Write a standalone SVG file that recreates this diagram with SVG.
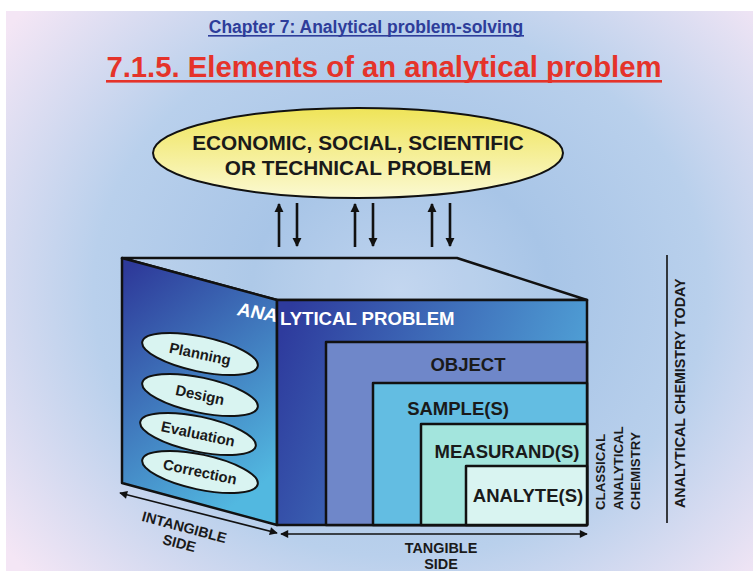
<svg xmlns="http://www.w3.org/2000/svg" width="753" height="571" viewBox="0 0 753 571">
<defs>
<radialGradient id="bg" gradientUnits="userSpaceOnUse" cx="400" cy="290" r="430" gradientTransform="translate(400 290) scale(1.15 1) translate(-400 -290)">
<stop offset="0" stop-color="#BED3EE"/>
<stop offset="0.3" stop-color="#A8C5E7"/>
<stop offset="0.62" stop-color="#B9D0EC"/>
<stop offset="1" stop-color="#F4E6F5"/>
</radialGradient>
<linearGradient id="yel" x1="0" y1="0" x2="0" y2="1">
<stop offset="0" stop-color="#EFE458"/>
<stop offset="1" stop-color="#FBF9D2"/>
</linearGradient>
<linearGradient id="front" gradientUnits="userSpaceOnUse" x1="290" y1="310" x2="590" y2="420">
<stop offset="0" stop-color="#2E3B9D"/>
<stop offset="1" stop-color="#52A8DA"/>
</linearGradient>
<linearGradient id="side" gradientUnits="userSpaceOnUse" x1="125" y1="270" x2="280" y2="470">
<stop offset="0" stop-color="#2E3A9A"/>
<stop offset="1" stop-color="#52B8E0"/>
</linearGradient>
<marker id="ah" viewBox="0 0 10 10" refX="9" refY="5" markerWidth="3.6" markerHeight="3.8" orient="auto-start-reverse" markerUnits="strokeWidth">
<path d="M0,0 L10,5 L0,10 z" fill="#111"/>
</marker>
<marker id="ah2" viewBox="0 0 10 10" refX="9" refY="5" markerWidth="6" markerHeight="5" orient="auto-start-reverse" markerUnits="strokeWidth">
<path d="M0,0 L10,5 L0,10 z" fill="#111"/>
</marker>
</defs>
<style>
.t{font-family:"Liberation Sans",Arial,sans-serif;font-weight:bold}
.dk{fill:#1a1a1a}
.box{stroke:#111;stroke-width:2.5;stroke-linejoin:round}
.oval{fill:#D9F4F1;stroke:#111;stroke-width:2}
.arr{stroke:#111;stroke-width:2.6;fill:none}
.arrs{stroke:#111;stroke-width:1.6;fill:none}
</style>
<rect x="0" y="0" width="753" height="571" fill="#fff"/>
<rect x="6" y="11" width="747" height="560" fill="url(#bg)"/>

<g id="titles">
<text class="t" x="366" y="33" font-size="17.5" fill="#2E3D9A" text-anchor="middle">Chapter 7: Analytical problem-solving</text>
<rect x="208" y="35" width="316" height="1.6" fill="#2E3D9A"/>
<text class="t" x="384" y="77" font-size="29.3" fill="#E5332A" text-anchor="middle">7.1.5. Elements of an analytical problem</text>
<rect x="106" y="80" width="556" height="2.6" fill="#E5332A"/>
</g>

<g id="problem">
<ellipse cx="358" cy="153" rx="205" ry="45" fill="url(#yel)" stroke="#111" stroke-width="2"/>
<text class="t dk" x="358" y="150" font-size="20.8" text-anchor="middle">ECONOMIC, SOCIAL, SCIENTIFIC</text>
<text class="t dk" x="358" y="175" font-size="20.8" text-anchor="middle">OR TECHNICAL PROBLEM</text>
</g>

<g id="connectors">
<line class="arr" x1="279" y1="247" x2="279" y2="204" marker-end="url(#ah)"/>
<line class="arr" x1="297" y1="203" x2="297" y2="246" marker-end="url(#ah)"/>
<line class="arr" x1="355" y1="247" x2="355" y2="204" marker-end="url(#ah)"/>
<line class="arr" x1="373" y1="203" x2="373" y2="246" marker-end="url(#ah)"/>
<line class="arr" x1="432" y1="247" x2="432" y2="204" marker-end="url(#ah)"/>
<line class="arr" x1="450" y1="203" x2="450" y2="246" marker-end="url(#ah)"/>
<line class="arrs" x1="120" y1="493" x2="277" y2="533" marker-start="url(#ah2)" marker-end="url(#ah2)"/>
<line class="arrs" x1="281" y1="534" x2="587" y2="534" marker-start="url(#ah2)" marker-end="url(#ah2)"/>
<line x1="667" y1="255" x2="667" y2="523" stroke="#111" stroke-width="1.6"/>
</g>

<g id="box">
<polygon class="box" points="122,258 457,258 587,300 277,300" fill="#ffffff" fill-opacity="0.08"/>
<polygon class="box" points="122,258 277,300 277,525 122,483" fill="url(#side)"/>
<rect class="box" x="277" y="300" width="310" height="225" fill="url(#front)"/>
</g>

<g id="analytical-problem">
<text class="t" x="280" y="325" font-size="18.6" fill="#fff">LYTICAL PROBLEM</text>
<text class="t" font-size="18.6" fill="#fff" transform="translate(236,315) rotate(10) skewX(-8)">ANA</text>
</g>

<g id="object">
<rect class="box" x="326" y="342" width="261" height="183" fill="#6F87C9"/>
<text class="t dk" x="468" y="371" font-size="18.5" text-anchor="middle">OBJECT</text>
</g>
<g id="samples">
<rect class="box" x="373" y="383" width="214" height="142" fill="#63BDE2"/>
<text class="t dk" x="458" y="415" font-size="18.5" text-anchor="middle">SAMPLE(S)</text>
</g>
<g id="measurands">
<rect class="box" x="421" y="424" width="166" height="101" fill="#A3E5DD"/>
<text class="t dk" x="507" y="458" font-size="18.5" text-anchor="middle">MEASURAND(S)</text>
</g>
<g id="analytes">
<rect class="box" x="466" y="466" width="121" height="59" fill="#D9F4F1"/>
<text class="t dk" x="528" y="502" font-size="18.5" text-anchor="middle">ANALYTE(S)</text>
</g>

<g id="planning" transform="translate(200,354) rotate(12)">
<ellipse class="oval" cx="0" cy="0" rx="59" ry="17.5"/>
<text class="t dk" x="0" y="5" font-size="14.8" text-anchor="middle">Planning</text>
</g>
<g id="design" transform="translate(200,395) rotate(12)">
<ellipse class="oval" cx="0" cy="0" rx="59" ry="17.5"/>
<text class="t dk" x="0" y="5" font-size="14.8" text-anchor="middle">Design</text>
</g>
<g id="evaluation" transform="translate(198,434) rotate(12)">
<ellipse class="oval" cx="0" cy="0" rx="59" ry="17.5"/>
<text class="t dk" x="0" y="5" font-size="14.8" text-anchor="middle">Evaluation</text>
</g>
<g id="correction" transform="translate(200,472) rotate(12)">
<ellipse class="oval" cx="0" cy="0" rx="59" ry="17.5"/>
<text class="t dk" x="0" y="5" font-size="14.8" text-anchor="middle">Correction</text>
</g>

<g id="labels">
<text class="t dk" font-size="14.4" text-anchor="middle" transform="translate(183,532) rotate(15)">INTANGIBLE</text>
<text class="t dk" font-size="14.4" text-anchor="middle" transform="translate(178,548) rotate(15)">SIDE</text>
<text class="t dk" x="441" y="553" font-size="14.4" text-anchor="middle">TANGIBLE</text>
<text class="t dk" x="441" y="569" font-size="14.4" text-anchor="middle">SIDE</text>
<text class="t dk" font-size="13.3" transform="translate(605,510) rotate(-90)">CLASSICAL</text>
<text class="t dk" font-size="13.3" transform="translate(622.5,510) rotate(-90)">ANALYTICAL</text>
<text class="t dk" font-size="13.3" transform="translate(640,510) rotate(-90)">CHEMISTRY</text>
<text class="t dk" font-size="14.3" transform="translate(685,508) rotate(-90)">ANALYTICAL CHEMISTRY TODAY</text>
</g>
</svg>
